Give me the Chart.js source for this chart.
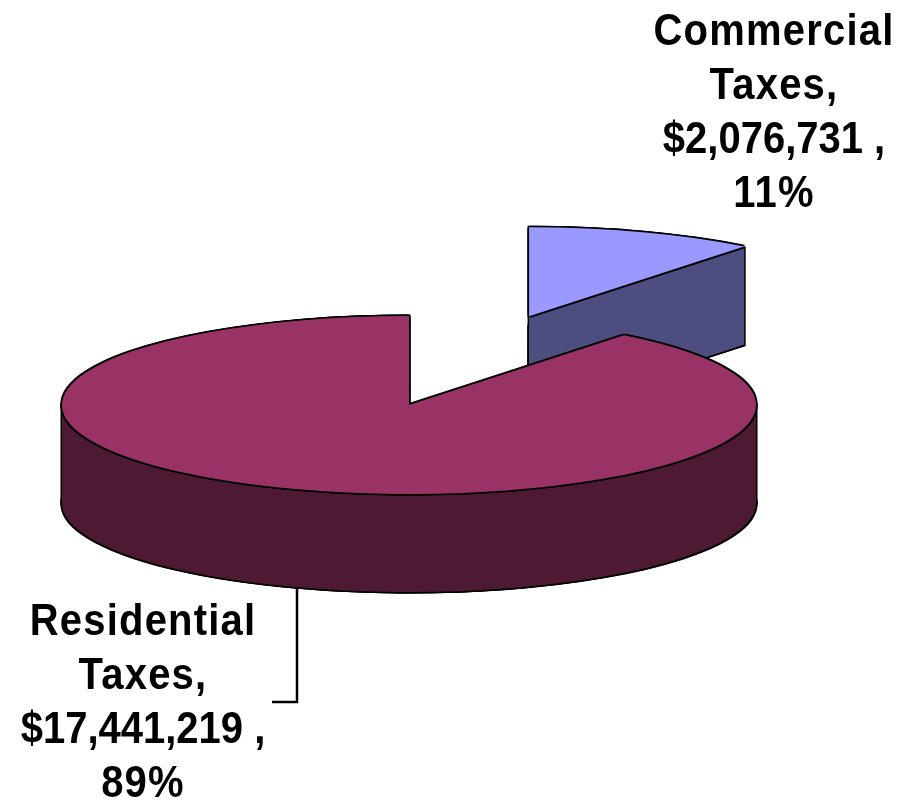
<!DOCTYPE html>
<html>
<head>
<meta charset="utf-8">
<script src="https://cdn.jsdelivr.net/npm/chart.js@4"></script>
<style>
html,body{margin:0;padding:0;background:#fff;overflow:hidden}
canvas{display:block}
</style>
</head>
<body>
<canvas id="c" width="899" height="800"></canvas>
<script>
const categories = ['Commercial Taxes', 'Residential Taxes'];
const values = [2076731, 17441219];
const valueLabels = ['$2,076,731 ,', '$17,441,219 ,'];
const percentLabels = ['11%', '89%'];
const topColors = ['#9999ff', '#993366'];
const sideColors = ['#4d4d80', '#4d1933'];
const labelLines = [['Commercial', 'Taxes,'], ['Residential', 'Taxes,']];

const RADIUS = 347, SQUASH = 0.2565, DEPTH = 98, EDGE = 1.5;
const explode = [366, 0];
const labelPos = [{x: 774, y: 45}, {x: 143, y: 635}];
const LINE = 54;
const TEXT_STRETCH = 1.09;

const pie3d = {
  id: 'pie3d',
  beforeDatasetDraw(chart, args) {
    const ctx = chart.ctx;
    const arcs = args.meta.data;
    const paint = (i, color, dx, dy) => {
      const arc = arcs[i];
      const saved = arc.options;
      arc.options = {backgroundColor: color, borderColor: color, borderWidth: 0, borderAlign: 'center',
                     offset: 0, spacing: 0, circular: true, borderRadius: 0, borderJoinStyle: 'round'};
      const mid = (arc.startAngle + arc.endAngle) / 2;
      ctx.save();
      ctx.translate(dx, arc.y + dy);
      ctx.scale(1, SQUASH);
      ctx.translate(0, -arc.y);
      ctx.translate(Math.cos(mid) * explode[i], Math.sin(mid) * explode[i]);
      arc.draw(ctx);
      ctx.restore();
      arc.options = saved;
    };
    // the visible wall between the top face and the bottom face of a slice
    const wall = (i, color, grow) => {
      const arc = arcs[i];
      const mid = (arc.startAngle + arc.endAngle) / 2;
      const ax = arc.x + Math.cos(mid) * explode[i];
      const ay = arc.y + Math.sin(mid) * explode[i] * SQUASH;
      const r = arc.outerRadius;
      let p;
      if (arc.endAngle - arc.startAngle > Math.PI) {
        p = [[ax - r - grow, ay], [ax + r + grow, ay], [ax + r + grow, ay + DEPTH + grow], [ax - r - grow, ay + DEPTH + grow]];
      } else {
        const bx = ax + Math.cos(arc.endAngle) * r;
        const by = ay + Math.sin(arc.endAngle) * r * SQUASH;
        p = [[ax - grow, ay], [bx + grow, by], [bx + grow, by + DEPTH + grow], [ax - grow, ay + DEPTH + grow]];
      }
      ctx.save();
      ctx.fillStyle = color;
      ctx.beginPath();
      p.forEach(([x, y], k) => k ? ctx.lineTo(x, y) : ctx.moveTo(x, y));
      ctx.closePath();
      ctx.fill();
      ctx.restore();
    };
    const ring = [[-1,-1],[1,-1],[-1,1],[1,1],[0,-1],[0,1],[-1,0],[1,0]];
    arcs.forEach((arc, i) => {
      ring.forEach(([a, b]) => paint(i, '#000', a * EDGE, DEPTH + b * EDGE));
      wall(i, '#000', EDGE);
      paint(i, sideColors[i], 0, DEPTH);
      wall(i, sideColors[i], 0);
      ring.forEach(([a, b]) => paint(i, '#000', a * EDGE, b * EDGE));
      paint(i, topColors[i], 0, 0);
    });
    return false;
  },
  afterDraw(chart) {
    const ctx = chart.ctx;
    ctx.save();
    ctx.strokeStyle = '#000';
    ctx.lineWidth = 2.5;
    ctx.beginPath();
    ctx.moveTo(297, 588);
    ctx.lineTo(297, 702);
    ctx.lineTo(272, 702);
    ctx.stroke();
    ctx.fillStyle = '#000';
    ctx.textAlign = 'center';
    ctx.textBaseline = 'alphabetic';
    ctx.font = 'bold 40px "Liberation Sans"';
    categories.forEach((_, i) => {
      const lines = [...labelLines[i], valueLabels[i], percentLabels[i]];
      lines.forEach((t, k) => {
        ctx.save();
        ctx.letterSpacing = k === 2 ? '0px' : '1.2px';
        ctx.translate(labelPos[i].x, labelPos[i].y + k * LINE);
        ctx.scale(1, TEXT_STRETCH);
        ctx.fillText(t, 0, 0);
        ctx.restore();
      });
    });
    ctx.restore();
  }
};

new Chart(document.getElementById('c'), {
  type: 'pie',
  data: {
    labels: categories,
    datasets: [{data: values, backgroundColor: topColors, borderWidth: 0, radius: RADIUS}]
  },
  options: {
    responsive: false,
    animation: false,
    layout: {padding: {right: 81, top: 10}},
    plugins: {legend: {display: false}, tooltip: {enabled: false}}
  },
  plugins: [pie3d]
});
</script>
</body>
</html>
